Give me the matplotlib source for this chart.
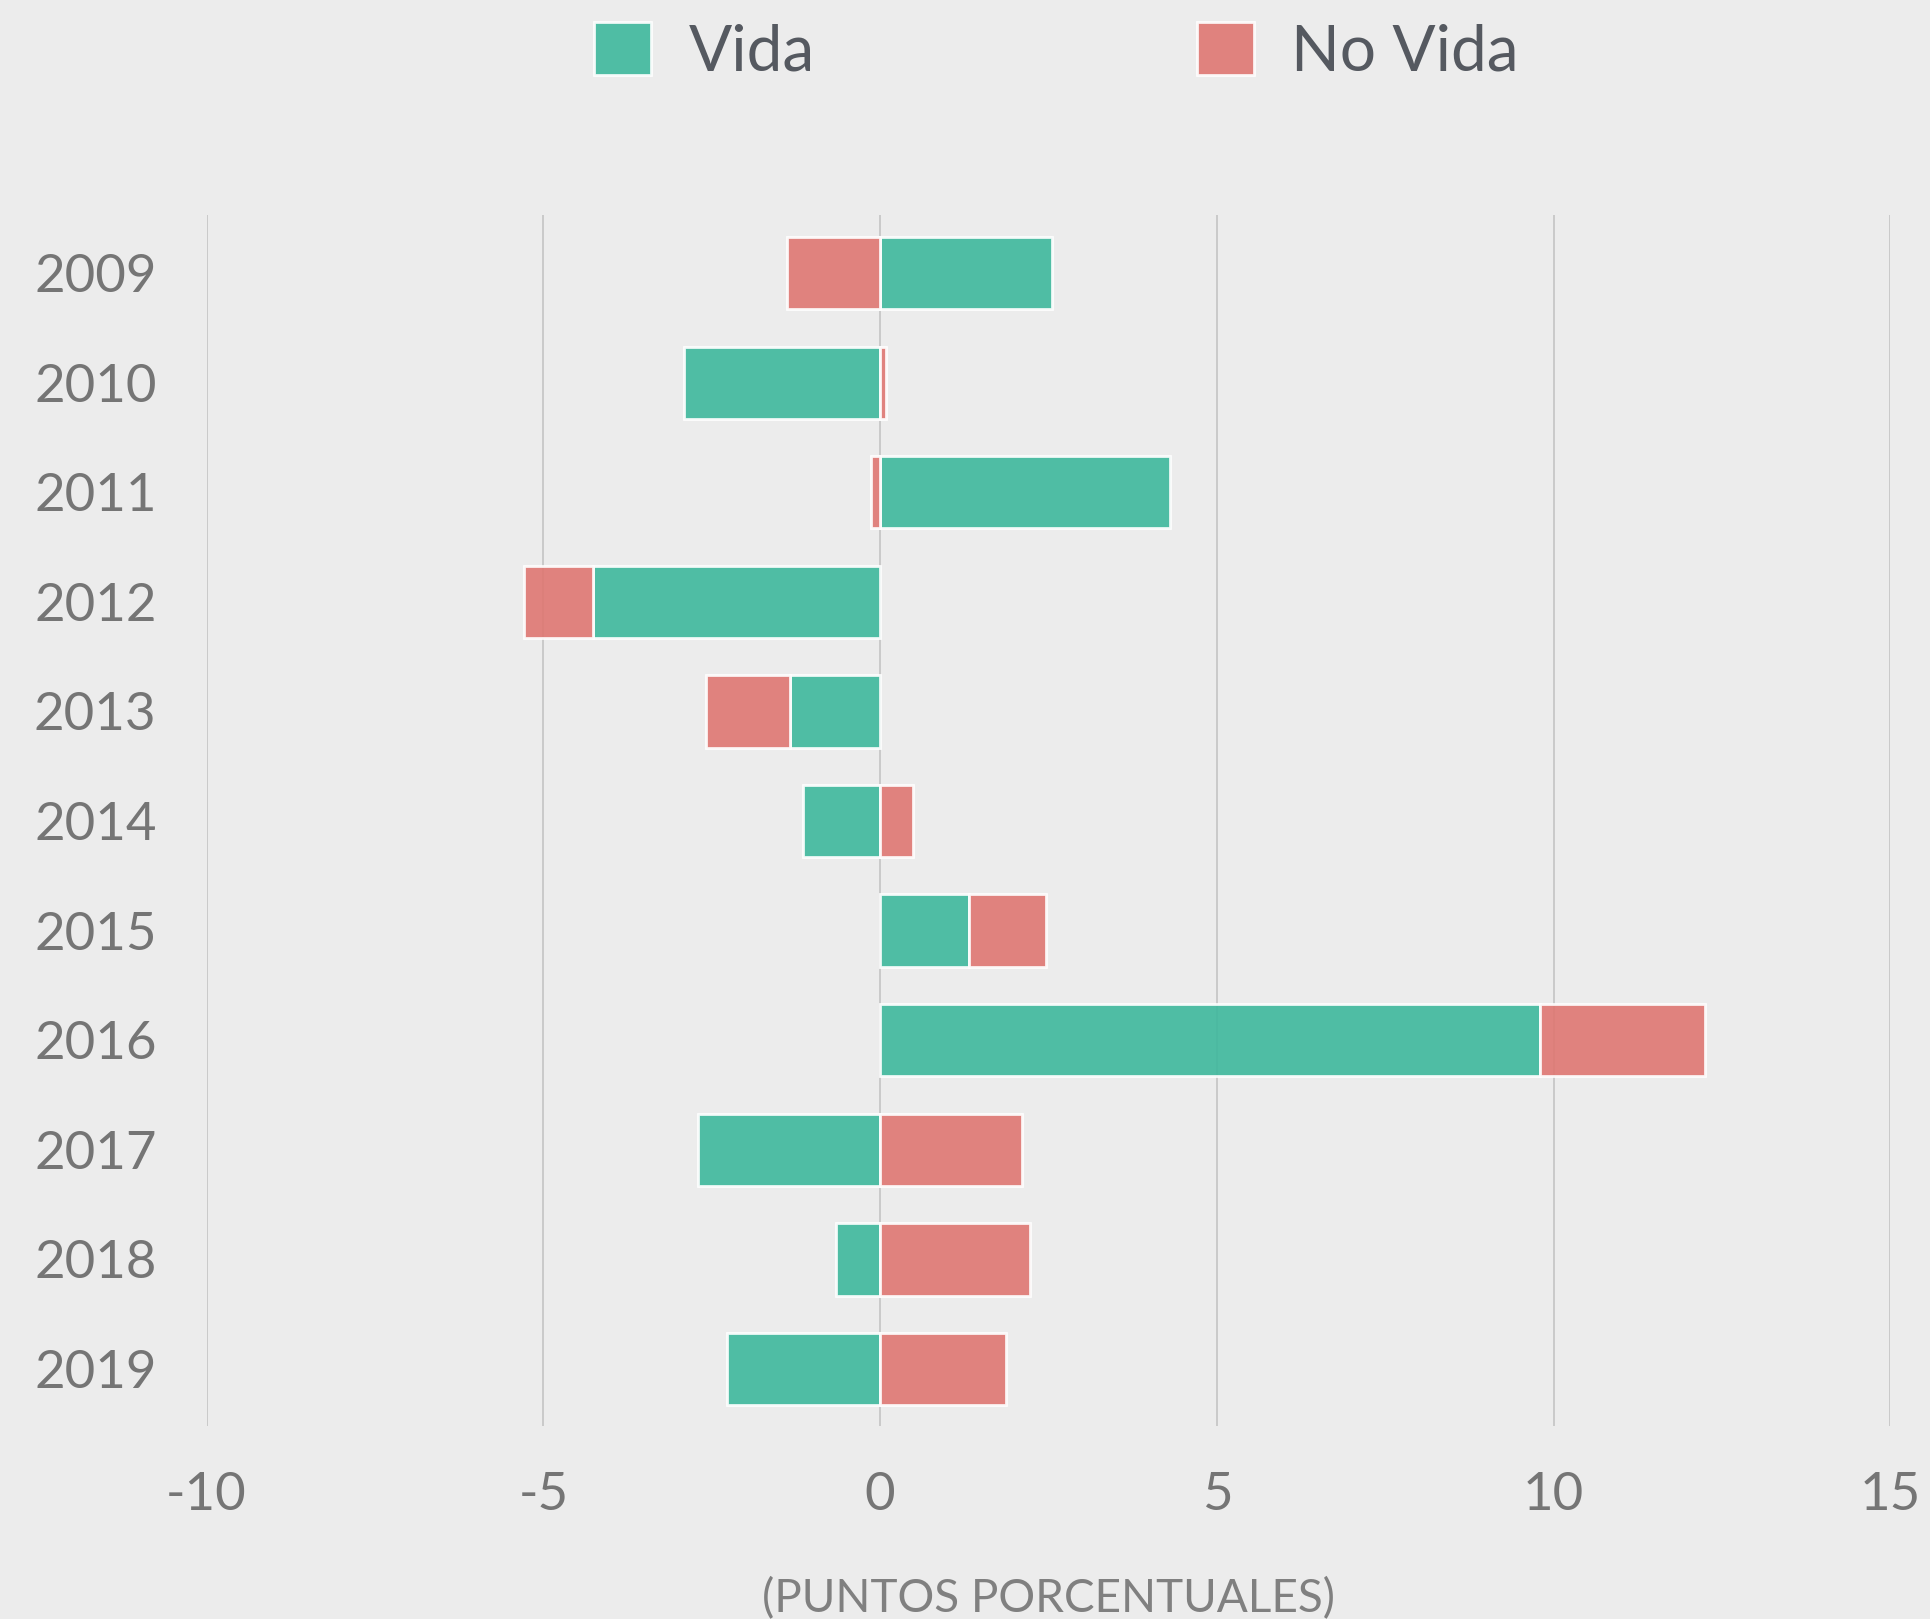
import matplotlib.pyplot as plt
import numpy as np
from matplotlib.patches import Patch

# datos (puntos porcentuales)
anios = ["2009", "2010", "2011", "2012", "2013", "2014", "2015", "2016", "2017", "2018", "2019"]
vida = [2.55, -2.91, 4.30, -4.27, -1.34, -1.15, 1.32, 9.80, -2.71, -0.65, -2.27]
no_vida = [-1.39, 0.08, -0.13, -1.02, -1.25, 0.49, 1.14, 2.45, 2.11, 2.23, 1.87]

color_vida = "#3eb89d"
color_no_vida = "#df7772"
fondo = "#ececec"

plt.rcParams["font.family"] = ["Lato", "DejaVu Sans"]
plt.rcParams["axes.unicode_minus"] = False

fig = plt.figure(figsize=(19.31, 16.19), dpi=100, facecolor=fondo)
ax = fig.add_axes([0.107, 0.1192, 0.872, 0.748], facecolor=fondo)

y = np.arange(len(anios))
vida_arr = np.array(vida)
nv_arr = np.array(no_vida)
# apilado divergente: el segundo tramo empieza donde acaba el primero si tiene el mismo signo
base_nv = np.where(np.sign(nv_arr) == np.sign(vida_arr), vida_arr, 0)

ax.barh(y, vida_arr, height=0.66, color=color_vida, alpha=0.9, edgecolor="white", linewidth=2, zorder=2)
ax.barh(y, nv_arr, left=base_nv, height=0.66, color=color_no_vida, alpha=0.9, edgecolor="white", linewidth=2, zorder=2)

ax.set_xlim(-10, 15)
ax.set_ylim(10.52, -0.53)
ax.set_xticks([-10, -5, 0, 5, 10, 15])
ax.set_yticks(y)
ax.set_yticklabels(anios)
ax.tick_params(axis="both", length=0, labelcolor="#757575", labelsize=38)
ax.tick_params(axis="y", pad=36)
ax.tick_params(axis="x", pad=33)

ax.grid(axis="x", color="#c4c4c4", linewidth=1.2, zorder=1)
ax.grid(axis="y", visible=False)
ax.set_axisbelow(True)
for s in ax.spines.values():
    s.set_visible(False)

ax.set_xlabel("(PUNTOS PORCENTUALES)", fontsize=33, color="#808080", labelpad=42)

# leyenda superior
handles = [Patch(facecolor=color_vida, alpha=0.9, edgecolor="white", linewidth=2, label="Vida"),
           Patch(facecolor=color_no_vida, alpha=0.9, edgecolor="white", linewidth=2, label="No Vida")]
leg = fig.legend(handles=handles, loc="center", bbox_to_anchor=(0.547, 0.968), ncol=2, frameon=False,
                 fontsize=46, handlelength=0.9, handleheight=0.9, handletextpad=0.58,
                 columnspacing=5.98, labelcolor="#555960")

fig.savefig("out.png", dpi=100, facecolor=fondo)
